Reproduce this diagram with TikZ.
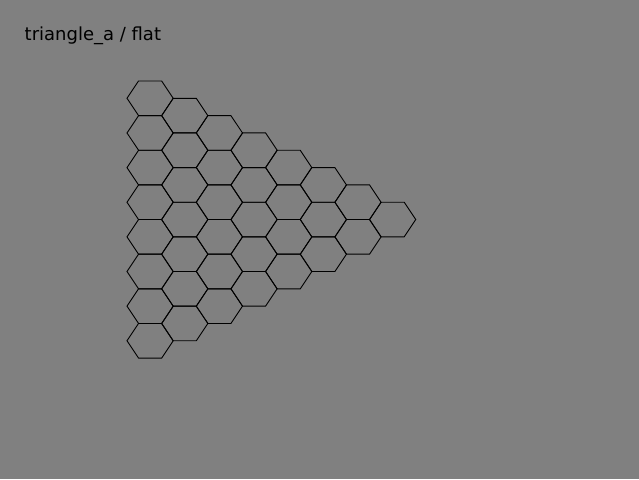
\documentclass[tikz,border=0pt]{standalone}
\usepackage{fontspec}
\setmainfont{DejaVu Sans}
\begin{document}
\begin{tikzpicture}[x=1pt,y=1pt,
  hexcell/.style={draw=black,line width=0.9pt,line join=miter},
  titletext/.style={anchor=base west,inner sep=0pt,font=\fontsize{18}{21}\selectfont,text=black}]
\fill[gray] (0,0) rectangle (639,-479);
\useasboundingbox (0,0) rectangle (639,-479);
\def\rx{23.1}
\def\ry{17.32}
\foreach \c in {0,...,7}{
  \pgfmathtruncatemacro{\last}{7-\c}
  \foreach \j in {0,...,\last}{
    \pgfmathsetmacro{\cx}{150.1+34.65*\c}
    \pgfmathsetmacro{\cy}{-(98.3+34.64*\j+17.32*\c)}
    \draw[hexcell] (\cx-\rx,\cy) -- (\cx-\rx/2,\cy+\ry) -- (\cx+\rx/2,\cy+\ry)
      -- (\cx+\rx,\cy) -- (\cx+\rx/2,\cy-\ry) -- (\cx-\rx/2,\cy-\ry) -- cycle;
  }
}
\node[titletext] (title) at (24.5,-40.5) {triangle\_a / flat};
\end{tikzpicture}
\end{document}
